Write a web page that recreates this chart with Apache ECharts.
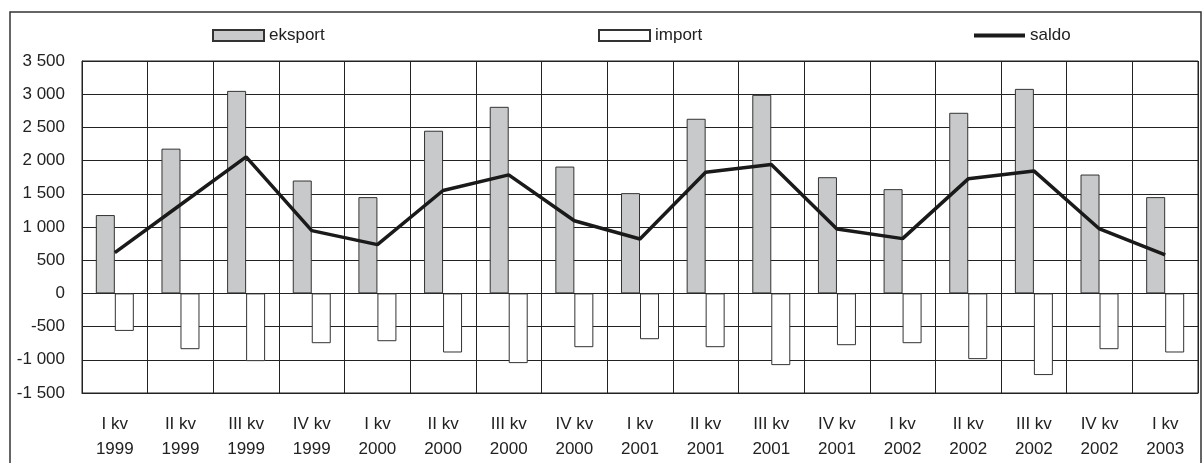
<!DOCTYPE html>
<html>
<head>
<meta charset="utf-8">
<script src="https://cdn.jsdelivr.net/npm/echarts@6/dist/echarts.min.js"></script>
<style>
html,body{margin:0;padding:0;background:#fff;}
#chart{width:1203px;height:463px;}
</style>
</head>
<body>
<div id="chart"></div>
<script>
const categories = ['I kv\n1999','II kv\n1999','III kv\n1999','IV kv\n1999','I kv\n2000','II kv\n2000','III kv\n2000','IV kv\n2000','I kv\n2001','II kv\n2001','III kv\n2001','IV kv\n2001','I kv\n2002','II kv\n2002','III kv\n2002','IV kv\n2002','I kv\n2003'];
const eksport = [1180, 2180, 3050, 1700, 1450, 2450, 2810, 1910, 1510, 2630, 2990, 1750, 1570, 2720, 3080, 1790, 1450];
const importValues = [-565, -840, -1020, -750, -720, -890, -1050, -810, -690, -810, -1080, -780, -750, -990, -1230, -840, -890];
const saldo = [615, 1335, 2055, 945, 735, 1550, 1785, 1095, 820, 1825, 1940, 970, 825, 1725, 1845, 970, 580];
const yTicks = {min: -1500, max: 3500, step: 500};

const FONT = 'Liberation Sans, Arial, sans-serif';
const TXT = '#222';
function fmt(v){
  const s = Math.abs(v).toString().replace(/\B(?=(\d{3})+(?!\d))/g, ' ');
  return (v < 0 ? '-' : '') + s;
}
const chart = echarts.init(document.getElementById('chart'), null, {renderer:'canvas'});
const legendText = {fontFamily: FONT, fontSize: 17, color: TXT};
chart.setOption({
  animation: false,
  backgroundColor: '#fff',
  graphic: [{
    type: 'rect', silent: true, z: 0,
    shape: {x: 10, y: 12, width: 1191, height: 470},
    style: {fill: 'none', stroke: '#333', lineWidth: 1.5}
  }],
  legend: [
    {data: [{name: 'eksport', icon: 'rect'}], left: 212, top: 27, itemWidth: 51, itemHeight: 11, textStyle: legendText, padding: 0},
    {data: [{name: 'import', icon: 'rect'}], left: 598, top: 27, itemWidth: 51, itemHeight: 11, textStyle: legendText, padding: 0},
    {data: [{name: 'saldo', icon: 'rect', itemStyle: {color: '#1a1a1a', borderWidth: 0}}], left: 974, top: 27, itemWidth: 51, itemHeight: 4, textStyle: legendText, padding: 0}
  ],
  grid: {left: 82, right: 5, top: 61, bottom: 70, show: true, borderColor: '#222', borderWidth: 1, backgroundColor: 'transparent'},
  xAxis: {
    type: 'category',
    data: categories,
    boundaryGap: true,
    axisLine: {onZero: false, lineStyle: {color: '#222', width: 1}},
    axisTick: {show: false},
    splitLine: {show: true, interval: 0, lineStyle: {color: '#222', width: 1}},
    axisLabel: {interval: 0, margin: 19, lineHeight: 25, fontFamily: FONT, fontSize: 17, color: TXT}
  },
  yAxis: {
    type: 'value',
    min: yTicks.min, max: yTicks.max, interval: yTicks.step,
    axisLine: {show: true, lineStyle: {color: '#222', width: 1}},
    axisTick: {show: false},
    splitLine: {show: true, lineStyle: {color: '#222', width: 1}},
    axisLabel: {margin: 17, fontFamily: FONT, fontSize: 17, color: TXT, formatter: fmt}
  },
  series: [
    {name: 'eksport', type: 'bar', data: eksport, barWidth: 19, barGap: '0%',
     itemStyle: {color: '#c8c9ca', borderColor: '#333', borderWidth: 1}, z: 2},
    {name: 'import', type: 'bar', data: importValues, barWidth: 19, barGap: '0%',
     itemStyle: {color: '#ffffff', borderColor: '#333', borderWidth: 1}, z: 2},
    {name: 'saldo', type: 'line', data: saldo, showSymbol: false, symbol: 'none',
     lineStyle: {color: '#1a1a1a', width: 3.5}, itemStyle: {color: '#1a1a1a'}, z: 5}
  ]
});
</script>
</body>
</html>
